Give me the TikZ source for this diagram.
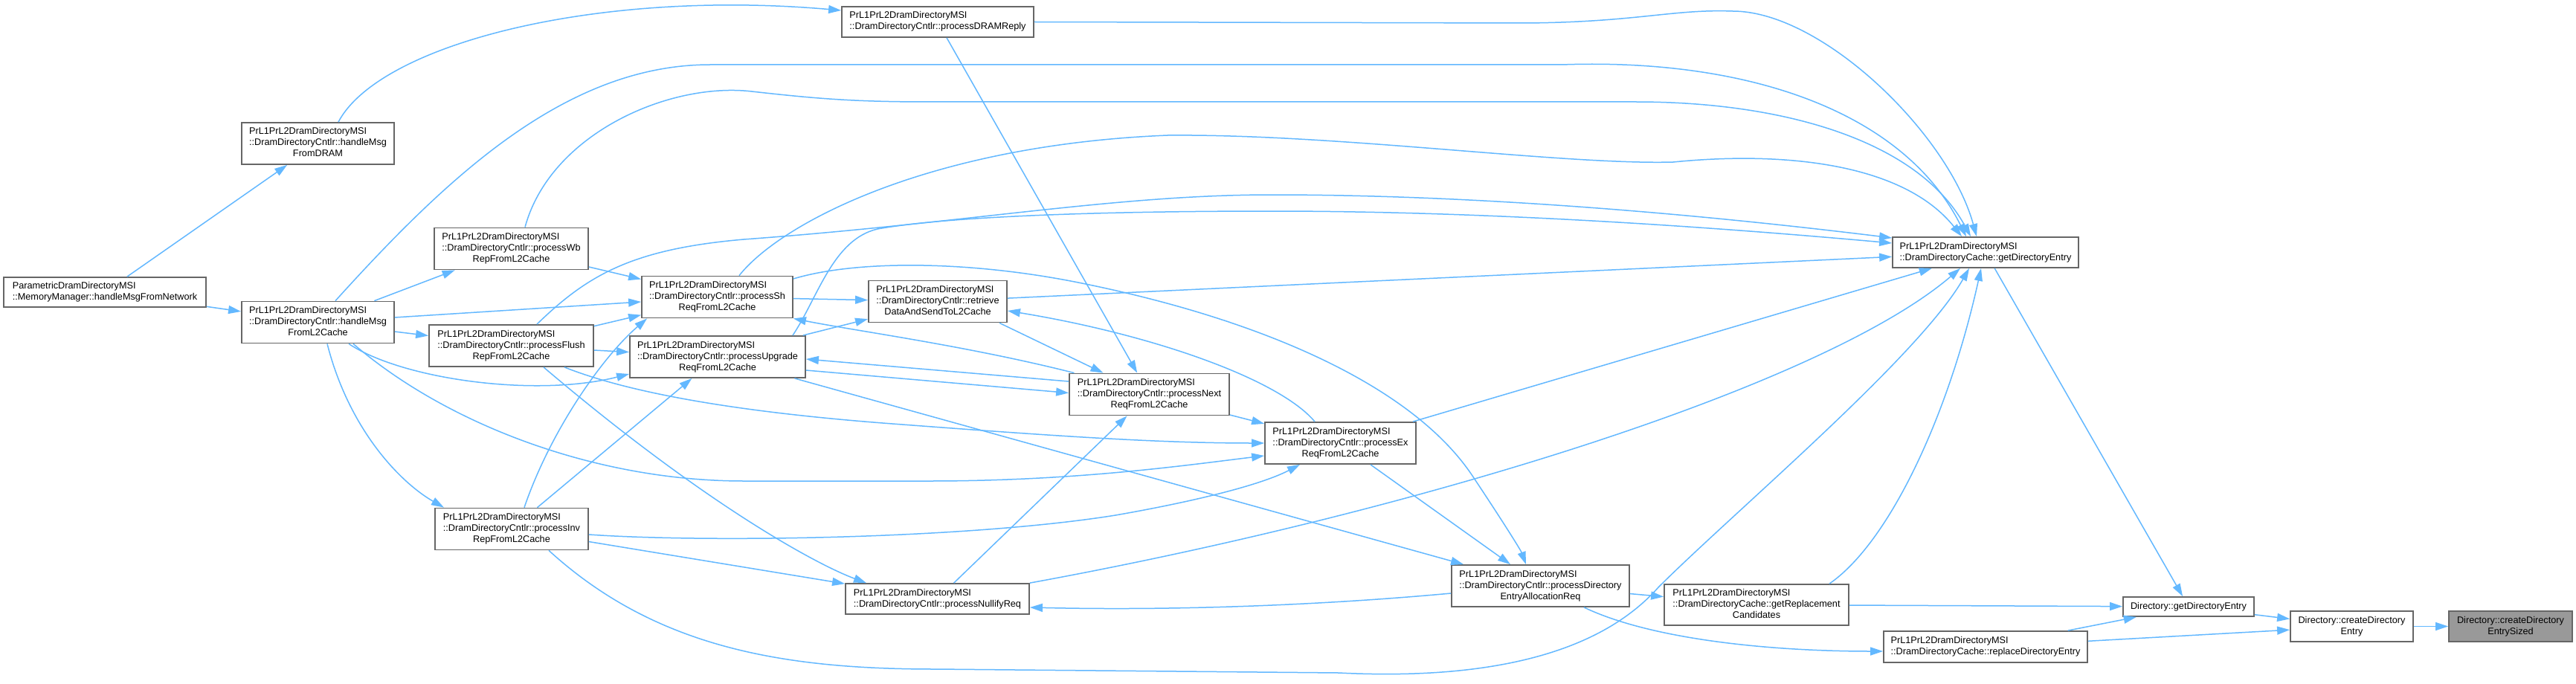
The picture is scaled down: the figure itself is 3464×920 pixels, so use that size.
\documentclass[tikz,border=0pt]{standalone}
\usepackage{fontspec}
\setmainfont{Liberation Sans}
\usetikzlibrary{arrows.meta}
\definecolor{ecol}{HTML}{63B8FF}
\definecolor{nborder}{HTML}{666666}
\definecolor{focusfill}{HTML}{999999}
\newcommand{\NodeFont}{\fontsize{12.7}{15}\selectfont}
\newcommand{\NodeTwo}[2]{\begin{tabular}{@{}l@{}}#1\\#2\end{tabular}}
\newcommand{\NodeThree}[3]{\begin{tabular}{@{}l@{}}#1\\#2\\\multicolumn{1}{@{}c@{}}{#3}\end{tabular}}
\newcommand{\NodeCen}[2]{\begin{tabular}{@{}c@{}}#1\\#2\end{tabular}}
\tikzset{
  nbox/.style={draw=nborder, line width=1.8pt, fill=white, inner sep=0pt, font=\NodeFont},
  edge/.style={draw=ecol, line width=1.5pt, -{Triangle[length=17pt,width=11pt]}},
}
\begin{document}
\begin{tikzpicture}[x=1pt,y=-1pt]
\path[use as bounding box, fill=white] (0,0) rectangle (3464,920);

% nodes
\node[nbox, minimum width=272pt, minimum height=40pt] (param) at (141,393) {\NodeTwo{ParametricDramDirectoryMSI}{::MemoryManager::handleMsgFromNetwork}};
\node[nbox, minimum width=205pt, minimum height=56pt] (hdram) at (427.5,193) {\NodeThree{PrL1PrL2DramDirectoryMSI}{::DramDirectoryCntlr::handleMsg}{FromDRAM}};
\node[nbox, minimum width=205pt, minimum height=56pt] (hl2) at (427.5,433.5) {\NodeThree{PrL1PrL2DramDirectoryMSI}{::DramDirectoryCntlr::handleMsg}{FromL2Cache}};
\node[nbox, minimum width=207pt, minimum height=56pt] (wb) at (687.5,334.5) {\NodeThree{PrL1PrL2DramDirectoryMSI}{::DramDirectoryCntlr::processWb}{RepFromL2Cache}};
\node[nbox, minimum width=221pt, minimum height=56pt] (flush) at (687.5,465) {\NodeThree{PrL1PrL2DramDirectoryMSI}{::DramDirectoryCntlr::processFlush}{RepFromL2Cache}};
\node[nbox, minimum width=206pt, minimum height=56pt] (inv) at (688,711.5) {\NodeThree{PrL1PrL2DramDirectoryMSI}{::DramDirectoryCntlr::processInv}{RepFromL2Cache}};
\node[nbox, minimum width=203pt, minimum height=56pt] (sh) at (964.5,399.5) {\NodeThree{PrL1PrL2DramDirectoryMSI}{::DramDirectoryCntlr::processSh}{ReqFromL2Cache}};
\node[nbox, minimum width=236pt, minimum height=56pt] (upg) at (965,480) {\NodeThree{PrL1PrL2DramDirectoryMSI}{::DramDirectoryCntlr::processUpgrade}{ReqFromL2Cache}};
\node[nbox, minimum width=258pt, minimum height=41pt] (dramreply) at (1261,29.5) {\NodeTwo{PrL1PrL2DramDirectoryMSI}{::DramDirectoryCntlr::processDRAMReply}};
\node[nbox, minimum width=186pt, minimum height=56pt] (retrieve) at (1261,405.5) {\NodeThree{PrL1PrL2DramDirectoryMSI}{::DramDirectoryCntlr::retrieve}{DataAndSendToL2Cache}};
\node[nbox, minimum width=247pt, minimum height=41pt] (nullify) at (1260.5,805.5) {\NodeTwo{PrL1PrL2DramDirectoryMSI}{::DramDirectoryCntlr::processNullifyReq}};
\node[nbox, minimum width=215pt, minimum height=56pt] (next) at (1545.5,530.5) {\NodeThree{PrL1PrL2DramDirectoryMSI}{::DramDirectoryCntlr::processNext}{ReqFromL2Cache}};
\node[nbox, minimum width=203pt, minimum height=56pt] (ex) at (1802.5,596) {\NodeThree{PrL1PrL2DramDirectoryMSI}{::DramDirectoryCntlr::processEx}{ReqFromL2Cache}};
\node[nbox, minimum width=239pt, minimum height=56pt] (alloc) at (2071.5,788) {\NodeThree{PrL1PrL2DramDirectoryMSI}{::DramDirectoryCntlr::processDirectory}{EntryAllocationReq}};
\node[nbox, minimum width=248pt, minimum height=55pt] (repl) at (2362,813.5) {\NodeThree{PrL1PrL2DramDirectoryMSI}{::DramDirectoryCache::getReplacement}{Candidates}};
\node[nbox, minimum width=250pt, minimum height=41pt] (cget) at (2670,339.5) {\NodeTwo{PrL1PrL2DramDirectoryMSI}{::DramDirectoryCache::getDirectoryEntry}};
\node[nbox, minimum width=274pt, minimum height=42pt] (replace) at (2670,870) {\NodeTwo{PrL1PrL2DramDirectoryMSI}{::DramDirectoryCache::replaceDirectoryEntry}};
\node[nbox, minimum width=176pt, minimum height=26pt] (dget) at (2943,816) {Directory::getDirectoryEntry};
\node[nbox, minimum width=165pt, minimum height=41pt] (create) at (3162.5,842.5) {\NodeCen{Directory::createDirectory}{Entry}};
\node[nbox, fill=focusfill, minimum width=166pt, minimum height=41pt] (sized) at (3376,842.5) {\NodeCen{Directory::createDirectory}{EntrySized}};

% edges: param
\draw[edge] (param) -- (hdram);
\draw[edge] (param) -- (hl2);
% hdram
\draw[edge] ([xshift=27.5pt]hdram.north) .. controls (510,60) and (800,-15) .. ([yshift=15.5pt]dramreply.west);
% hl2
\draw[edge] (hl2) -- (wb);
\draw[edge] (hl2) -- (sh);
\draw[edge] (hl2) -- (flush);
\draw[edge] ([xshift=41.5pt]hl2.south) .. controls (540,510) and (720,535) .. ([yshift=-23pt]upg.west);
\draw[edge] ([xshift=12.5pt]hl2.south) .. controls (470,580) and (540,650) .. ([xshift=-91pt]inv.north);
\draw[edge] ([xshift=47.5pt]hl2.south) .. controls (600,570) and (800,647) .. (1000,647) -- (1250,647) .. controls (1450,647) and (1600,625) .. ([yshift=-17pt]ex.west);
\draw[edge] ([xshift=23.5pt]hl2.north) .. controls (600,240) and (760,87) .. (955,87) -- (2100,87) .. controls (2350,78) and (2560,150) .. ([xshift=-26pt]cget.north);
% wb
\draw[edge] (wb) -- (sh);
\draw[edge] ([xshift=18.5pt]wb.north) .. controls (740,180) and (900,110) .. (1011,123) .. controls (1100,133) and (1150,137) .. (1250,137) -- (2200,137) .. controls (2400,137) and (2580,190) .. ([xshift=-20pt]cget.north);
% flush
\draw[edge] (flush) -- (sh);
\draw[edge] (flush) -- (upg);
\draw[edge] ([xshift=43.5pt]flush.south) .. controls (950,680) and (1100,760) .. ([xshift=-95.5pt]nullify.north);
\draw[edge] ([xshift=71.5pt]flush.south) .. controls (850,530) and (1000,555) .. (1200,570) .. controls (1400,585) and (1550,596) .. (ex.west);
\draw[edge] ([xshift=34.5pt]flush.north) .. controls (790,370) and (850,335) .. (1000,322) .. controls (1300,300) and (1500,262) .. (1710,262) .. controls (2000,262) and (2300,290) .. ([yshift=19.5pt]cget.west);
% inv
\draw[edge] ([xshift=17pt]inv.north) .. controls (740,580) and (810,480) .. ([xshift=8pt]sh.south west);
\draw[edge] (inv) -- (upg);
\draw[edge] (inv) -- (nullify);
\draw[edge] ([yshift=-7.5pt]inv.east) .. controls (950,730) and (1300,725) .. (1500,693) .. controls (1620,672) and (1700,650) .. ([xshift=-54.5pt]ex.south);
\draw[edge] ([xshift=50pt]inv.south) .. controls (880,870) and (1050,900) .. (1257,900) -- (1800,905) .. controls (2000,915) and (2150,880) .. (2230,790) .. controls (2330,690) and (2580,480) .. ([xshift=-22pt]cget.south);
% sh
\draw[edge] (sh) -- (retrieve);
\draw[edge] ([xshift=29.5pt]sh.north) .. controls (1050,300) and (1250,195) .. (1570,182) .. controls (1800,180) and (2100,222) .. (2250,218) .. controls (2400,203) and (2560,220) .. ([xshift=-32pt]cget.north);
\draw[edge] ([yshift=24.5pt]sh.east) .. controls (1150,350) and (1300,350) .. (1450,380) .. controls (1700,430) and (1900,520) .. (1980,640) .. controls (2020,700) and (2045,740) .. ([xshift=-19.5pt]alloc.north);
% upg
\draw[edge] (upg) -- (retrieve);
\draw[edge] ([xshift=101pt]upg.north) .. controls (1100,400) and (1120,322) .. (1180,308) .. controls (1280,290) and (1500,284) .. (1710,284) .. controls (2000,284) and (2300,305) .. ([yshift=12.5pt]cget.west);
\draw[edge] ([yshift=-18pt]upg.east) -- ([yshift=2pt]next.west);
\draw[edge] (upg) -- (alloc);
% next
\draw[edge] ([yshift=17.5pt]next.west) -- ([yshift=-3pt]upg.east);
\draw[edge] ([xshift=-101pt]next.north) .. controls (1300,465) and (1150,445) .. (sh.south east);
\draw[edge] (next) -- (ex);
% dramreply
\draw[edge] (dramreply.east) -- (2050,31) .. controls (2200,30) and (2250,12) .. (2330,15) .. controls (2450,15) and (2620,180) .. ([xshift=-12pt]cget.north);
\draw[edge] (dramreply) -- (next);
% retrieve
\draw[edge] (retrieve) -- (cget);
\draw[edge] ([xshift=83pt]retrieve.south) -- ([xshift=-62pt]next.north);
% ex
\draw[edge] ([xshift=-34.5pt]ex.north) .. controls (1720,510) and (1550,450) .. ([yshift=-12.5pt]retrieve.east);
\draw[edge] (ex) -- (cget);
\draw[edge] (ex) -- (alloc);
% nullify
\draw[edge] (nullify) -- (next);
\draw[edge] (nullify.north east) .. controls (1900,690) and (2450,520) .. ([xshift=-34pt]cget.south);
% alloc
\draw[edge] (alloc) -- (repl);
\draw[edge] ([xshift=58.5pt]alloc.south) .. controls (2220,860) and (2380,876) .. ([yshift=-6pt]replace.west);
\draw[edge] ([yshift=-10pt]alloc.west) .. controls (1800,812) and (1600,822) .. ([yshift=-11.5pt]nullify.east);
% repl
\draw[edge] ([xshift=98pt]repl.north) .. controls (2540,730) and (2620,560) .. ([xshift=-6pt]cget.south);
\draw[edge] (repl) -- (dget);
% cget, replace, dget, create
\draw[edge] (cget) -- (dget);
\draw[edge] (replace) -- (dget);
\draw[edge] (replace) -- (create);
\draw[edge] (dget) -- (create);
\draw[edge] (create) -- (sized);
\end{tikzpicture}
\end{document}
